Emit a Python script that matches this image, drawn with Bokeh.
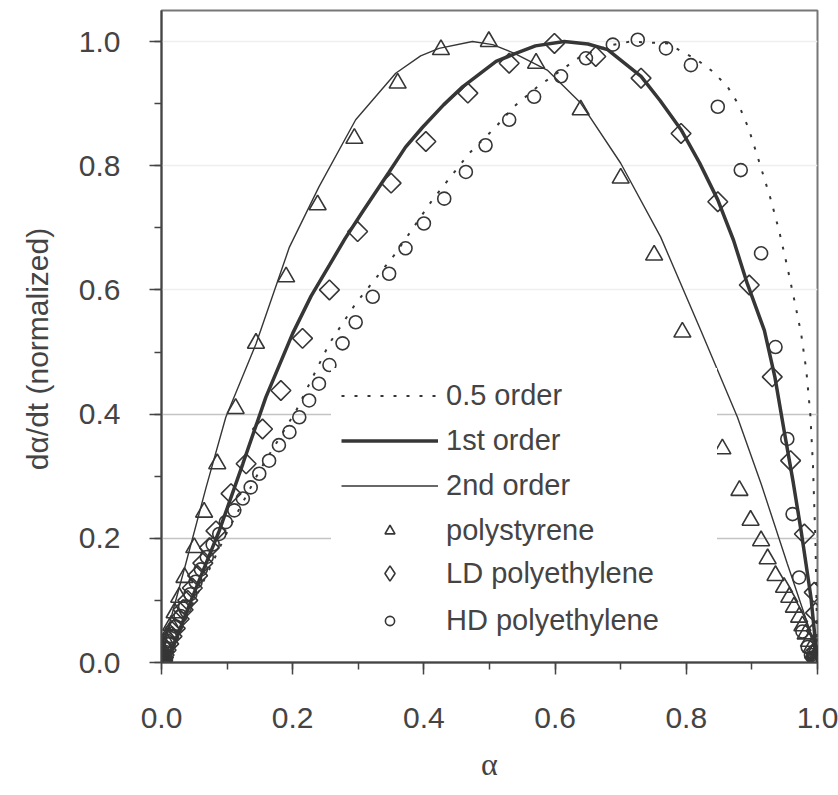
import numpy as np
from bokeh.plotting import figure
from bokeh.models import (Range1d, SingleIntervalTicker, FixedTicker, Grid, Legend,
                          LegendItem, NumeralTickFormatter)
from bokeh.embed import file_html
from bokeh.resources import INLINE

# ---------------- data ----------------
order05_a = [0.0, 0.02, 0.05, 0.10, 0.15, 0.205, 0.256, 0.296, 0.357, 0.413, 0.469, 0.510,
             0.537, 0.573, 0.639, 0.680, 0.715, 0.771, 0.817, 0.840, 0.863, 0.880, 0.895,
             0.910, 0.929, 0.942, 0.954, 0.965, 0.975, 0.983, 0.989, 0.993, 0.997, 1.0]
order05_v = [0.0, 0.04, 0.10, 0.21, 0.31, 0.405, 0.514, 0.578, 0.659, 0.745, 0.820, 0.863,
             0.895, 0.927, 0.976, 0.993, 1.0, 0.997, 0.970, 0.952, 0.927, 0.898, 0.860,
             0.810, 0.745, 0.693, 0.637, 0.582, 0.530, 0.470, 0.400, 0.320, 0.190, 0.0]

order1_a = [0.0, 0.017, 0.047, 0.088, 0.124, 0.159, 0.200, 0.228, 0.256, 0.280, 0.306, 0.347,
            0.372, 0.398, 0.430, 0.459, 0.510, 0.538, 0.570, 0.614, 0.650, 0.680, 0.731,
            0.760, 0.792, 0.820, 0.848, 0.872, 0.893, 0.919, 0.935, 0.949, 0.963, 0.975,
            0.990, 1.0]
order1_v = [0.0, 0.024, 0.105, 0.212, 0.320, 0.427, 0.530, 0.590, 0.640, 0.683, 0.725, 0.790,
            0.830, 0.862, 0.898, 0.927, 0.968, 0.980, 0.993, 1.0, 0.996, 0.987, 0.944,
            0.905, 0.858, 0.805, 0.745, 0.680, 0.610, 0.535, 0.460, 0.374, 0.290, 0.212,
            0.105, 0.0]

order2_a = [0.0, 0.012, 0.037, 0.068, 0.098, 0.144, 0.195, 0.240, 0.296, 0.357, 0.395, 0.423,
            0.474, 0.505, 0.538, 0.588, 0.639, 0.700, 0.761, 0.822, 0.878, 0.914, 0.954,
            0.985, 1.0]
order2_v = [0.0, 0.062, 0.159, 0.282, 0.395, 0.513, 0.669, 0.766, 0.874, 0.949, 0.977, 0.989,
            1.0, 0.995, 0.981, 0.954, 0.901, 0.804, 0.685, 0.535, 0.395, 0.288, 0.159,
            0.062, 0.0]

ps_a = [0.0, 0.0005, 0.001, 0.002, 0.003, 0.004, 0.006, 0.008, 0.010, 0.012, 0.015, 0.020,
        0.027, 0.035, 0.050, 0.065, 0.085, 0.113, 0.144, 0.190, 0.238, 0.294, 0.360, 0.426,
        0.499, 0.571, 0.639, 0.700, 0.751, 0.794, 0.830, 0.855, 0.881, 0.898, 0.914, 0.924,
        0.936, 0.949, 0.957, 0.964, 0.972, 0.977, 0.982, 0.987, 0.991, 0.994, 0.997, 0.9985,
        0.999, 0.9995, 1.0]
ps_v = [0.0, 0.002, 0.004, 0.008, 0.012, 0.016, 0.024, 0.032, 0.040, 0.048, 0.060, 0.080,
        0.105, 0.137, 0.185, 0.242, 0.320, 0.409, 0.514, 0.621, 0.737, 0.844, 0.933, 0.987,
        1.0, 0.965, 0.890, 0.780, 0.656, 0.532, 0.425, 0.344, 0.277, 0.229, 0.196, 0.167,
        0.140, 0.121, 0.105, 0.089, 0.073, 0.059, 0.046, 0.034, 0.024, 0.015, 0.007, 0.004,
        0.002, 0.001, 0.0]

ld_a = [0.0, 0.0005, 0.001, 0.002, 0.003, 0.004, 0.007, 0.011, 0.016, 0.021, 0.027, 0.033,
        0.040, 0.047, 0.055, 0.063, 0.073, 0.083, 0.106, 0.129, 0.154, 0.182, 0.215, 0.256,
        0.299, 0.350, 0.403, 0.467, 0.530, 0.599, 0.662, 0.731, 0.792, 0.848, 0.896, 0.931,
        0.959, 0.980, 0.995, 0.997, 0.998, 0.999, 0.9995, 1.0]
ld_v = [0.0, 0.001, 0.002, 0.004, 0.008, 0.012, 0.020, 0.030, 0.042, 0.055, 0.070, 0.085,
        0.100, 0.120, 0.140, 0.160, 0.185, 0.212, 0.272, 0.320, 0.376, 0.438, 0.522, 0.600,
        0.694, 0.772, 0.839, 0.917, 0.965, 0.997, 0.976, 0.941, 0.852, 0.742, 0.608, 0.460,
        0.325, 0.207, 0.113, 0.080, 0.051, 0.020, 0.010, 0.005]

hd_a = [0.0, 0.0005, 0.001, 0.002, 0.003, 0.004, 0.006, 0.008, 0.011, 0.016, 0.022, 0.029,
        0.036, 0.044, 0.052, 0.060, 0.069, 0.078, 0.088, 0.098, 0.111, 0.124, 0.136, 0.149,
        0.164, 0.179, 0.195, 0.210, 0.225, 0.240, 0.256, 0.276, 0.296, 0.322, 0.347, 0.372,
        0.400, 0.431, 0.464, 0.494, 0.530, 0.568, 0.609, 0.647, 0.688, 0.726, 0.769, 0.807,
        0.848, 0.883, 0.914, 0.936, 0.954, 0.962, 0.972, 0.977, 0.985, 0.990, 0.993, 0.995,
        0.997, 0.999, 1.0]
hd_v = [0.0, 0.001, 0.002, 0.005, 0.008, 0.011, 0.017, 0.022, 0.030, 0.042, 0.058, 0.075,
        0.090, 0.110, 0.130, 0.150, 0.170, 0.190, 0.207, 0.226, 0.245, 0.264, 0.282, 0.304,
        0.325, 0.350, 0.371, 0.395, 0.422, 0.449, 0.479, 0.514, 0.548, 0.589, 0.626, 0.667,
        0.707, 0.747, 0.790, 0.833, 0.874, 0.911, 0.944, 0.973, 0.995, 1.003, 0.989, 0.962,
        0.895, 0.793, 0.659, 0.508, 0.360, 0.239, 0.137, 0.050, 0.025, 0.012, 0.008, 0.005,
        0.003, 0.001, 0.0]

labels = ["0.5 order", "1st order", "2nd order", "polystyrene", "LD polyethylene", "HD polyethylene"]

# ---------------- figure ----------------
INK = "#363636"
TXT = "#444444"
FONT = "Liberation Sans"

p = figure(width=838, height=795, output_backend="svg", toolbar_location=None,
           x_range=Range1d(0, 1.0), y_range=Range1d(0, 1.05),
           min_border_left=161, min_border_right=21, min_border_top=10, min_border_bottom=133,
           background_fill_color="white", border_fill_color="white")

p.outline_line_color = "#777777"
p.outline_line_width = 2

p.xaxis.ticker = SingleIntervalTicker(interval=0.2, num_minor_ticks=2)
p.yaxis.ticker = SingleIntervalTicker(interval=0.2, num_minor_ticks=2)
for ax in (p.xaxis[0], p.yaxis[0]):
    ax.formatter = NumeralTickFormatter(format="0.0")
    ax.axis_line_width = 2
    ax.axis_line_color = TXT
    ax.major_tick_out = 12
    ax.major_tick_in = 0
    ax.minor_tick_out = 7
    ax.minor_tick_in = 0
    ax.major_tick_line_width = 1.5
    ax.minor_tick_line_width = 1.5
    ax.major_tick_line_color = TXT
    ax.minor_tick_line_color = TXT
    ax.major_label_text_font = FONT
    ax.major_label_text_font_size = "30px"
    ax.major_label_text_color = TXT
    ax.axis_label_text_color = TXT
    ax.axis_label_text_font_style = "normal"

p.yaxis.major_label_standoff = 29
p.xaxis.major_label_standoff = 33
# trailing no-break spaces move the visible label slightly down, as in the original
p.yaxis.axis_label = "dα/dt (normalized)\u00a0\u00a0\u00a0"
p.yaxis.axis_label_text_font = FONT
p.yaxis.axis_label_text_font_size = "30px"
p.yaxis.axis_label_standoff = 22
p.xaxis.axis_label = "α"
p.xaxis.axis_label_text_font = "Liberation Serif"
p.xaxis.axis_label_text_font_size = "32px"
p.xaxis.axis_label_standoff = 15

p.xgrid.visible = False
p.ygrid.ticker = FixedTicker(ticks=[0.6, 0.8, 1.0])
p.ygrid.grid_line_color = "#eeeeee"
p.ygrid.grid_line_width = 1.5
g2 = Grid(dimension=1, ticker=FixedTicker(ticks=[0.2, 0.4]),
          grid_line_color="#c4c4c4", grid_line_width=1.5)
p.add_layout(g2)

# ---------------- glyphs ----------------
r05 = p.line(order05_a, order05_v, line_color=INK, line_width=2, line_dash="3 10")
r1 = p.line(order1_a, order1_v, line_color=INK, line_width=3.5)
r2 = p.line(order2_a, order2_v, line_color=INK, line_width=1.4)

rps = p.scatter(ps_a, ps_v, marker="triangle", size=17, fill_alpha=0,
                line_color=INK, line_width=1.6)
rld = p.scatter(ld_a, ld_v, marker="square", angle=np.pi / 4, size=14, fill_alpha=0,
                line_color=INK, line_width=1.6)
rhd = p.scatter(hd_a, hd_v, marker="circle", size=13, fill_alpha=0,
                line_color=INK, line_width=1.6)
# legend-only proxy for the diamond (legend ignores marker angle)
rld_key = p.scatter([np.nan], [np.nan], marker="diamond", size=14, fill_alpha=0,
                    line_color=INK, line_width=1.6)

common = dict(orientation="vertical", glyph_width=97, label_height=34,
              label_standoff=8, spacing=11, margin=0,
              label_text_font=FONT, label_text_font_size="29px",
              label_text_color=TXT, label_text_baseline="middle",
              background_fill_color="white", background_fill_alpha=1.0,
              border_line_alpha=0)

leg_a = Legend(items=[LegendItem(label=lab, renderers=[r])
                      for lab, r in zip(labels[:4], [r05, r1, r2, rps])],
               location=(170, 105), glyph_height=25, padding=10, label_width=261, **common)
leg_b = Legend(items=[LegendItem(label=labels[4], renderers=[rld_key])],
               location=(180, 70), glyph_height=38, padding=0, **common)
leg_c = Legend(items=[LegendItem(label=labels[5], renderers=[rhd])],
               location=(180, 25), glyph_height=23, padding=0, **common)
for lg in (leg_a, leg_b, leg_c):
    p.add_layout(lg, "center")

open("out.html", "w").write(file_html(p, INLINE))
